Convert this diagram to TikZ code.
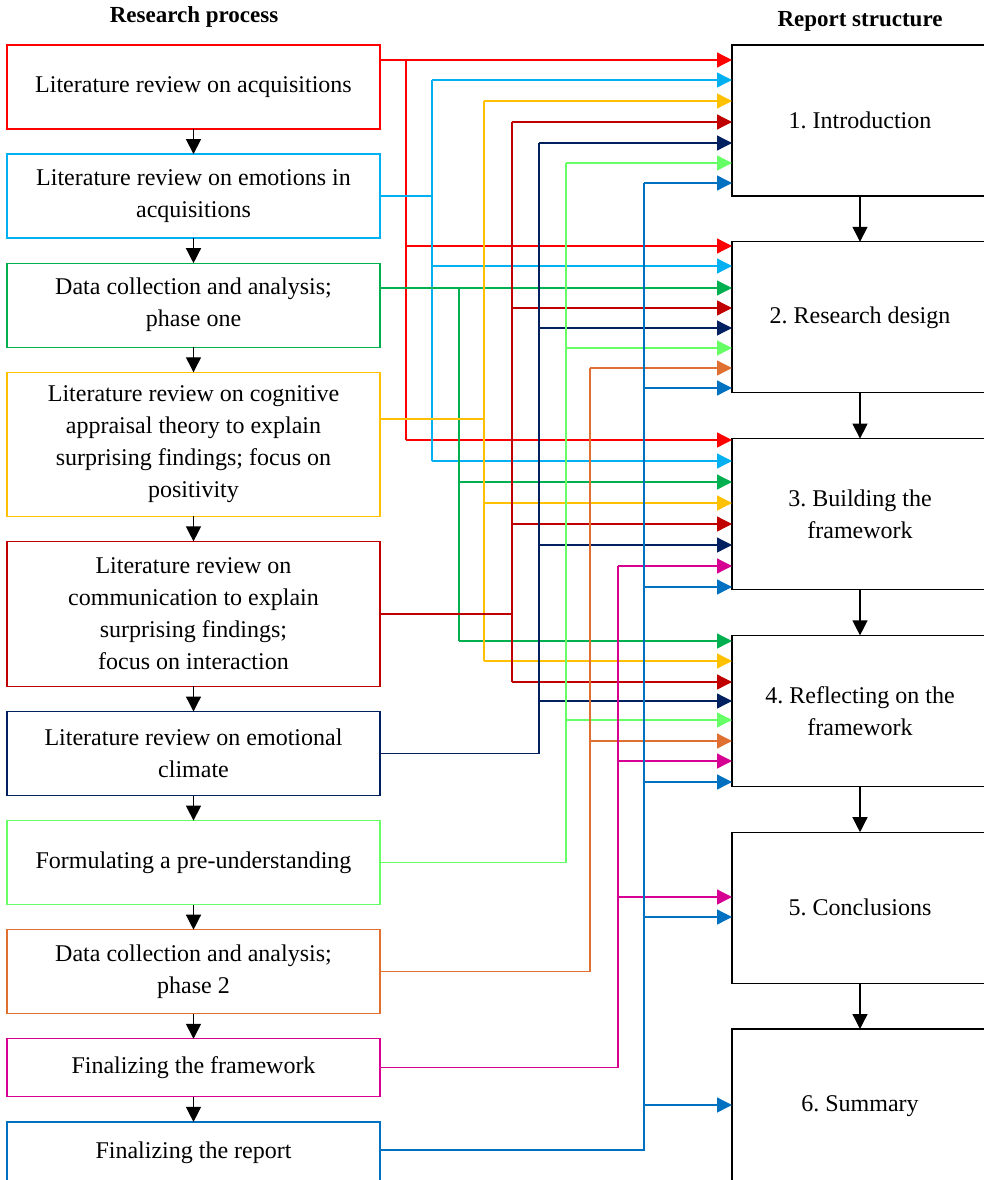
\documentclass[tikz,border=0pt]{standalone}
\usepackage{fontspec}
\setmainfont{Liberation Serif}
\usetikzlibrary{arrows.meta, positioning}
\definecolor{acq}{RGB}{255,0,0}
\definecolor{emo}{RGB}{0,176,240}
\definecolor{dataone}{RGB}{0,176,80}
\definecolor{appraisal}{RGB}{255,192,0}
\definecolor{commu}{RGB}{192,0,0}
\definecolor{climate}{RGB}{0,32,96}
\definecolor{preund}{RGB}{102,255,102}
\definecolor{datatwo}{RGB}{224,112,50}
\definecolor{finfw}{RGB}{214,0,147}
\definecolor{finrep}{RGB}{0,112,192}
\frenchspacing

\begin{document}
\begin{tikzpicture}[x=1pt, y=-1pt]

% TikZ styles
\tikzset{
  stage/.style={rectangle, draw=#1, line width=1.3pt, outer sep=0pt, minimum width=373pt, align=center, inner sep=0pt, font=\fontsize{24}{32}\selectfont},
  chapter/.style={rectangle, draw=black, line width=1.3pt, outer sep=0pt, minimum width=256pt, minimum height=151pt, align=center, font=\fontsize{24}{32}\selectfont},
  heading/.style={font=\fontsize{23}{28}\selectfont\bfseries},
  line/.style={line width=1.3pt},
  arrow/.style={-{Triangle[length=15pt, width=15pt]}, line width=1.3pt}
}

\useasboundingbox (0,0) rectangle (984,1180);
\clip (0,0) rectangle (984,1180);

%==========================
% Research process (left)
%==========================
\node[heading] (hleft) at (194,17) {Research process};

\node[stage=acq, minimum height=84pt, anchor=north] (l1) at (193.5,45) {Literature review on acquisitions};
\node[stage=emo, minimum height=84pt, below=25.1pt of l1] (l2) {Literature review on emotions in\\acquisitions};
\node[stage=dataone, minimum height=84pt, below=25.1pt of l2] (l3) {Data collection and analysis;\\phase one};
\node[stage=appraisal, minimum height=144pt, below=25.1pt of l3] (l4) {Literature review on cognitive\\appraisal theory to explain\\surprising findings; focus on\\positivity};
\node[stage=commu, minimum height=145pt, below=25.1pt of l4] (l5) {Literature review on\\communication to explain\\surprising findings;\\focus on interaction};
\node[stage=climate, minimum height=84pt, below=25.1pt of l5] (l6) {Literature review on emotional\\climate};
\node[stage=preund, minimum height=84pt, below=25.1pt of l6] (l7) {Formulating a pre-understanding};
\node[stage=datatwo, minimum height=84pt, below=25.1pt of l7] (l8) {Data collection and analysis;\\phase 2};
\node[stage=finfw, minimum height=58pt, below=25.1pt of l8] (l9) {Finalizing the framework};
\node[stage=finrep, minimum height=62pt, below=25.1pt of l9] (l10) {Finalizing the report};

\draw[arrow] (l1.south) -- (l2.north);
\draw[arrow] (l2.south) -- (l3.north);
\draw[arrow] (l3.south) -- (l4.north);
\draw[arrow] (l4.south) -- (l5.north);
\draw[arrow] (l5.south) -- (l6.north);
\draw[arrow] (l6.south) -- (l7.north);
\draw[arrow] (l7.south) -- (l8.north);
\draw[arrow] (l8.south) -- (l9.north);
\draw[arrow] (l9.south) -- (l10.north);

%==========================
% Report structure (right)
%==========================
\node[heading] (hright) at (860,21) {Report structure};

\node[chapter, anchor=north] (r1) at (860,45) {1. Introduction};
\node[chapter, below=45.8pt of r1] (r2) {2. Research design};
\node[chapter, below=45.8pt of r2] (r3) {3. Building the\\framework};
\node[chapter, below=45.8pt of r3] (r4) {4. Reflecting on the\\framework};
\node[chapter, below=45.8pt of r4] (r5) {5. Conclusions};
\node[chapter, minimum height=155pt, below=45.8pt of r5] (r6) {6. Summary};

\draw[arrow] (r1.south) -- (r2.north);
\draw[arrow] (r2.south) -- (r3.north);
\draw[arrow] (r3.south) -- (r4.north);
\draw[arrow] (r4.south) -- (r5.north);
\draw[arrow] (r5.south) -- (r6.north);

% vertical buses
\coordinate (bacq) at (406,0);
\coordinate (bemo) at (432,0);
\coordinate (bdataone) at (459,0);
\coordinate (bappraisal) at (484,0);
\coordinate (bcommu) at (512,0);
\coordinate (bclimate) at (539,0);
\coordinate (bpreund) at (566,0);
\coordinate (bdatatwo) at (590,0);
\coordinate (bfinfw) at (618,0);
\coordinate (bfinrep) at (644,0);

%Literature review on acquisitions
\draw[line, acq] (l1.east |- 0,60) -| (bacq |- 0,440);
\draw[arrow, acq] (bacq |- 0,60) -- (r1.west |- 0,60);
\draw[arrow, acq] (bacq |- 0,246) -- (r2.west |- 0,246);
\draw[arrow, acq] (bacq |- 0,440) -- (r3.west |- 0,440);

%Emotions in acquisitions
\draw[line, emo] (l2.east) -- (l2.east -| bemo);
\draw[line, emo] (bemo |- 0,80) -- (bemo |- 0,461);
\draw[arrow, emo] (bemo |- 0,80) -- (r1.west |- 0,80);
\draw[arrow, emo] (bemo |- 0,266) -- (r2.west |- 0,266);
\draw[arrow, emo] (bemo |- 0,461) -- (r3.west |- 0,461);

%Data collection phase one
\draw[line, dataone] (l3.east |- 0,288) -| (bdataone |- 0,641);
\draw[arrow, dataone] (bdataone |- 0,288) -- (r2.west |- 0,288);
\draw[arrow, dataone] (bdataone |- 0,482) -- (r3.west |- 0,482);
\draw[arrow, dataone] (bdataone |- 0,641) -- (r4.west |- 0,641);

%Cognitive appraisal theory
\draw[line, appraisal] (l4.east |- 0,419) -- (bappraisal |- 0,419);
\draw[line, appraisal] (bappraisal |- 0,101) -- (bappraisal |- 0,661);
\draw[arrow, appraisal] (bappraisal |- 0,101) -- (r1.west |- 0,101);
\draw[arrow, appraisal] (bappraisal |- 0,503) -- (r3.west |- 0,503);
\draw[arrow, appraisal] (bappraisal |- 0,661) -- (r4.west |- 0,661);

%Communication
\draw[line, commu] (l5.east) -- (l5.east -| bcommu);
\draw[line, commu] (bcommu |- 0,122) -- (bcommu |- 0,682);
\draw[arrow, commu] (bcommu |- 0,122) -- (r1.west |- 0,122);
\draw[arrow, commu] (bcommu |- 0,308) -- (r2.west |- 0,308);
\draw[arrow, commu] (bcommu |- 0,524) -- (r3.west |- 0,524);
\draw[arrow, commu] (bcommu |- 0,682) -- (r4.west |- 0,682);

%Emotional climate
\draw[line, climate] (l6.east) -| (bclimate |- 0,143);
\draw[arrow, climate] (bclimate |- 0,143) -- (r1.west |- 0,143);
\draw[arrow, climate] (bclimate |- 0,328) -- (r2.west |- 0,328);
\draw[arrow, climate] (bclimate |- 0,545) -- (r3.west |- 0,545);
\draw[arrow, climate] (bclimate |- 0,701) -- (r4.west |- 0,701);

%Pre-understanding
\draw[line, preund] (l7.east) -| (bpreund |- 0,163);
\draw[arrow, preund] (bpreund |- 0,163) -- (r1.west |- 0,163);
\draw[arrow, preund] (bpreund |- 0,348) -- (r2.west |- 0,348);
\draw[arrow, preund] (bpreund |- 0,720) -- (r4.west |- 0,720);

%Data collection phase 2
\draw[line, datatwo] (l8.east) -| (bdatatwo |- 0,368);
\draw[arrow, datatwo] (bdatatwo |- 0,368) -- (r2.west |- 0,368);
\draw[arrow, datatwo] (bdatatwo |- 0,741) -- (r4.west |- 0,741);

%Finalizing the framework
\draw[line, finfw] (l9.east) -| (bfinfw |- 0,566);
\draw[arrow, finfw] (bfinfw |- 0,566) -- (r3.west |- 0,566);
\draw[arrow, finfw] (bfinfw |- 0,761) -- (r4.west |- 0,761);
\draw[arrow, finfw] (bfinfw |- 0,897) -- (r5.west |- 0,897);

%Finalizing the report
\draw[line, finrep] (l10.east |- 0,1150) -| (bfinrep |- 0,183);
\draw[arrow, finrep] (bfinrep |- 0,183) -- (r1.west |- 0,183);
\draw[arrow, finrep] (bfinrep |- 0,388) -- (r2.west |- 0,388);
\draw[arrow, finrep] (bfinrep |- 0,587) -- (r3.west |- 0,587);
\draw[arrow, finrep] (bfinrep |- 0,782) -- (r4.west |- 0,782);
\draw[arrow, finrep] (bfinrep |- 0,917) -- (r5.west |- 0,917);
\draw[arrow, finrep] (bfinrep |- 0,1105) -- (r6.west |- 0,1105);
\end{tikzpicture}
\end{document}
